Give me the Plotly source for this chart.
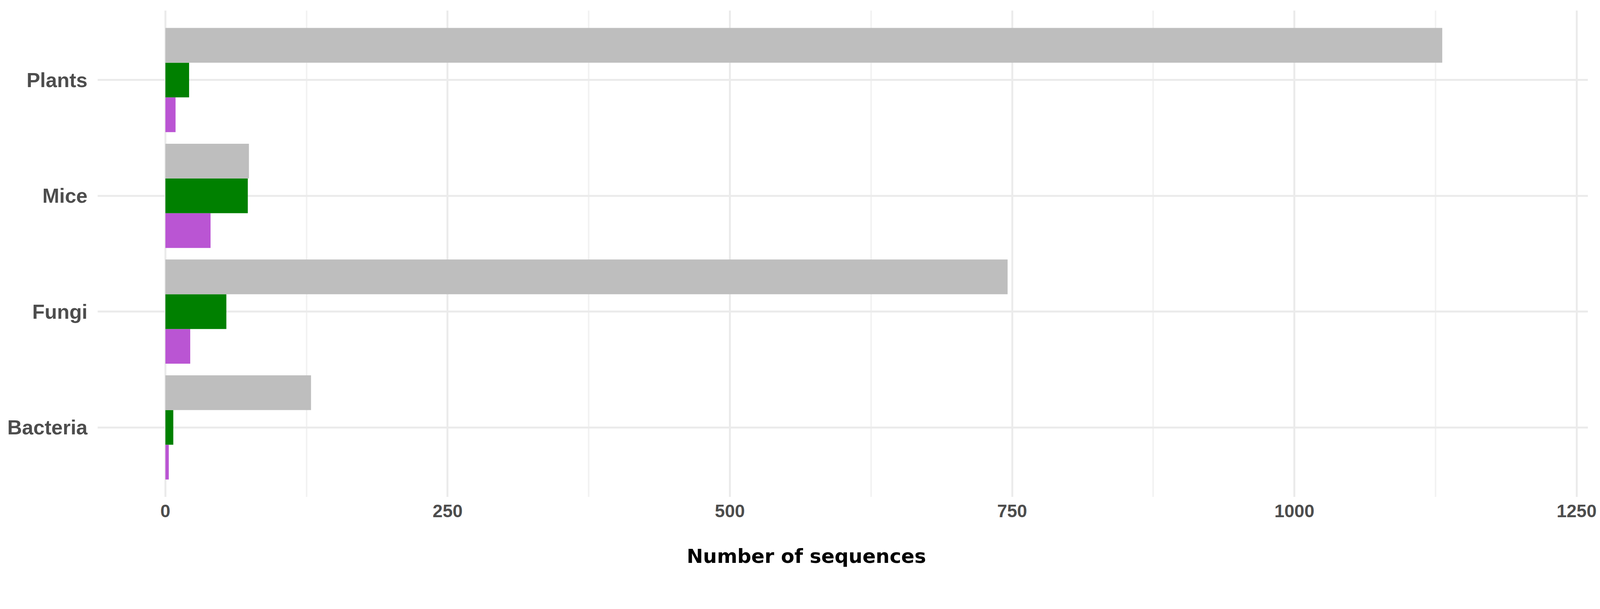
import plotly.graph_objects as go

# categories bottom to top, as they appear on the y axis
groups = ['Bacteria', 'Fungi', 'Mice', 'Plants']

# three series per group (top bar to bottom bar inside each group)
gray_counts = [129, 746, 74, 1131]
green_counts = [7, 54, 73, 21]
purple_counts = [3, 22, 40, 9]

x_ticks = [0, 250, 500, 750, 1000, 1250]
x_title = 'Number of sequences'

# the page gets shown at about 4096 css px across, so lay it out in those
W, H = 4080, 1450
M_L, M_R, M_T, M_B = 242, 23, 19, 186

fig = go.Figure()
# plotly stacks grouped horizontal bars from the bottom up,
# so the purple series goes in first and the gray one last
for values, colour, label in [
    (purple_counts, '#BA55D3', 'purple'),
    (green_counts, '#008000', 'green'),
    (gray_counts, '#BEBEBE', 'gray'),
]:
    fig.add_trace(go.Bar(
        x=values,
        y=groups,
        orientation='h',
        marker=dict(color=colour, line=dict(width=0)),
        name=label,
        showlegend=False,
    ))

grid_col = '#EBEBEB'
fig.update_layout(
    width=W,
    height=H,
    margin=dict(l=M_L, r=M_R, t=M_T, b=M_B, autoexpand=False),
    paper_bgcolor='white',
    plot_bgcolor='white',
    barmode='group',
    bargap=0.1,
    bargroupgap=0,
    xaxis=dict(
        range=[-60, 1260],
        tickvals=x_ticks,
        ticktext=[str(v) for v in x_ticks],
        showgrid=True,
        gridcolor=grid_col,
        gridwidth=4.7,
        minor=dict(dtick=125, tick0=125, showgrid=True,
                   gridcolor='#F2F2F2', gridwidth=4),
        zeroline=False,
        showline=False,
        ticks='',
        automargin=False,
        ticklabelstandoff=5,
        tickfont=dict(family='Liberation Sans, Arial, sans-serif',
                      size=46, color='#4D4D4D', weight='bold'),
    ),
    yaxis=dict(
        categoryorder='array',
        categoryarray=groups,
        range=[-0.6, 3.6],
        showgrid=True,
        gridcolor=grid_col,
        gridwidth=4.7,
        zeroline=False,
        showline=False,
        ticks='',
        automargin=False,
        ticklabelstandoff=25,
        tickfont=dict(family='Liberation Sans, Arial, sans-serif',
                      size=52, color='#4D4D4D', weight='bold'),
    ),
    annotations=[dict(
        text=x_title,
        xref='paper', yref='paper',
        x=(2056 - M_L) / (W - M_L - M_R),
        y=-(1416 - (H - M_B)) / (H - M_T - M_B),
        xanchor='center', yanchor='middle',
        showarrow=False,
        font=dict(family='DejaVu Sans, Verdana, sans-serif',
                  size=50, color='black', weight='bold'),
    )],
)

fig.write_html('out.html')
